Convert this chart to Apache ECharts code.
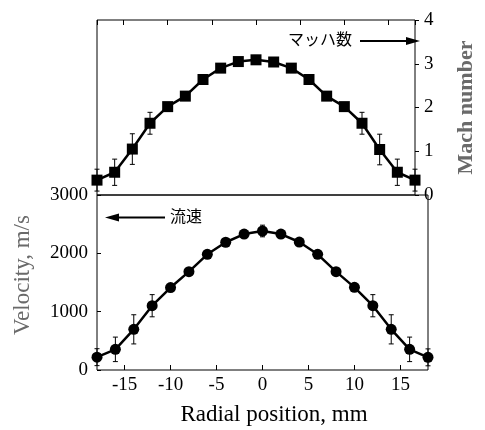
<!DOCTYPE html>
<html>
<head>
<meta charset="utf-8">
<script src="https://cdn.jsdelivr.net/npm/echarts@6/dist/echarts.min.js"></script>
<style>
html,body{margin:0;padding:0;background:#fff;}
#chart{width:485px;height:430px;}
</style>
</head>
<body>
<div id="chart"></div>
<script>
// ---- data ----
const radialPosition = [-18,-16,-14,-12,-10,-8,-6,-4,-2,0,2,4,6,8,10,12,14,16,18];
const machNumber = [0.34,0.52,1.05,1.64,2.02,2.26,2.64,2.90,3.05,3.09,3.04,2.90,2.64,2.26,2.02,1.64,1.04,0.52,0.34];
const machError = [0.25,0.30,0.35,0.25,0.07,0.06,0.05,0.05,0.06,0.10,0.06,0.05,0.05,0.06,0.07,0.25,0.35,0.30,0.25];
const velocity = [220,354,697,1102,1414,1686,1983,2190,2331,2383,2331,2194,1983,1686,1417,1102,697,354,217];
const velocityError = [145,210,250,190,60,50,40,40,40,100,40,40,40,50,60,190,250,210,145];
const machTickLabels = ['0','1','2','3','4'];
const velocityTickLabels = ['0','1000','2000','3000'];
const labels = {
  x: 'Radial position, mm',
  velocity: 'Velocity, m/s',
  mach: 'Mach number',
  machNote: 'マッハ数',
  velocityNote: '流速'
};

const serif = '"Liberation Serif","Times New Roman",serif';
const chart = echarts.init(document.getElementById('chart'), null, {renderer: 'canvas'});

function pairs(xs, ys) { return xs.map((x, i) => [x, ys[i]]); }
function triples(xs, ys, es) { return xs.map((x, i) => [x, ys[i], es[i]]); }

function errorBars(params, api) {
  const x = api.value(0), y = api.value(1), e = api.value(2);
  const top = api.coord([x, y + e]);
  const bot = api.coord([x, y - e]);
  const w = 2.5;
  const st = {stroke: '#000', lineWidth: 1};
  return {
    type: 'group',
    children: [
      {type: 'line', shape: {x1: top[0], y1: top[1], x2: bot[0], y2: bot[1]}, style: st},
      {type: 'line', shape: {x1: top[0] - w, y1: top[1], x2: top[0] + w, y2: top[1]}, style: st},
      {type: 'line', shape: {x1: bot[0] - w, y1: bot[1], x2: bot[0] + w, y2: bot[1]}, style: st}
    ]
  };
}

const xCommon = {
  type: 'value', min: -18, max: 18, splitNumber: 7, minInterval: 5, maxInterval: 5,
  splitLine: {show: false},
  axisLine: {show: false, onZero: false}
};

const option = {
  animation: false,
  backgroundColor: '#fff',
  grid: [
    {left: 97, right: 57, top: 20, height: 175, show: true, borderColor: '#000', borderWidth: 1, backgroundColor: 'transparent'},
    {left: 97, right: 57, top: 195, height: 175, show: true, borderColor: '#000', borderWidth: 1, backgroundColor: 'transparent'}
  ],
  xAxis: [
    Object.assign({}, xCommon, {
      gridIndex: 0, position: 'top',
      axisTick: {show: true, inside: true, length: 5, lineStyle: {color: '#000', width: 1}},
      axisLabel: {show: false}
    }),
    Object.assign({}, xCommon, {
      gridIndex: 1, position: 'bottom',
      axisTick: {show: true, inside: true, length: 5, lineStyle: {color: '#000', width: 1}},
      axisLabel: {show: true, showMinLabel: false, showMaxLabel: false, margin: 6, color: '#000', fontFamily: serif, fontSize: 19},
      name: labels.x, nameLocation: 'middle', nameGap: 33,
      nameTextStyle: {color: '#000', fontFamily: serif, fontSize: 23, padding: [0, 0, 0, 23]}
    })
  ],
  yAxis: [
    {
      type: 'value', gridIndex: 0, position: 'right', min: 0, max: 4, interval: 1,
      splitLine: {show: false}, axisLine: {show: false, onZero: false},
      axisTick: {show: true, inside: false, length: 4, lineStyle: {color: '#000', width: 1}},
      axisLabel: {margin: 9, color: '#000', fontFamily: serif, fontSize: 19,
        formatter: v => machTickLabels[Math.round(v)]},
      name: labels.mach, nameLocation: 'middle', nameGap: 40,
      nameTextStyle: {color: '#6a6a6a', fontFamily: serif, fontSize: 22, fontWeight: 'bold'}
    },
    {
      type: 'value', gridIndex: 1, position: 'left', min: 0, max: 3000, interval: 1000,
      splitLine: {show: false}, axisLine: {show: false, onZero: false},
      axisTick: {show: true, inside: true, length: 4, lineStyle: {color: '#000', width: 1}},
      axisLabel: {margin: 9, color: '#000', fontFamily: serif, fontSize: 19,
        formatter: v => velocityTickLabels[Math.round(v / 1000)]},
      name: labels.velocity, nameLocation: 'middle', nameGap: 63,
      nameTextStyle: {color: '#6a6a6a', fontFamily: serif, fontSize: 23, padding: [0, 0, 0, 15]}
    }
  ],
  series: [
    {
      type: 'custom', xAxisIndex: 0, yAxisIndex: 0, renderItem: errorBars,
      data: triples(radialPosition, machNumber, machError), encode: {x: 0, y: 1}, z: 1, clip: false
    },
    {
      type: 'line', xAxisIndex: 0, yAxisIndex: 0, data: pairs(radialPosition, machNumber),
      symbol: 'rect', symbolSize: 11, clip: false, z: 3,
      lineStyle: {color: '#000', width: 2.5}, itemStyle: {color: '#000'}
    },
    {
      type: 'custom', xAxisIndex: 1, yAxisIndex: 1, renderItem: errorBars,
      data: triples(radialPosition, velocity, velocityError), encode: {x: 0, y: 1}, z: 1, clip: false
    },
    {
      type: 'line', xAxisIndex: 1, yAxisIndex: 1, data: pairs(radialPosition, velocity),
      symbol: 'circle', symbolSize: 11, clip: false, z: 3,
      lineStyle: {color: '#000', width: 2.5}, itemStyle: {color: '#000'}
    }
  ],
  graphic: [
    {type: 'text', left: 288, top: 31, style: {text: labels.machNote, fontFamily: '"Noto Sans CJK JP",sans-serif', fontSize: 16, fill: '#000'}},
    {type: 'line', shape: {x1: 360, y1: 41, x2: 410, y2: 41}, style: {stroke: '#000', lineWidth: 2}},
    {type: 'polygon', shape: {points: [[420, 41], [406, 37], [406, 45]]}, style: {fill: '#000'}},
    {type: 'text', left: 170, top: 208, style: {text: labels.velocityNote, fontFamily: '"Noto Sans CJK JP",sans-serif', fontSize: 16, fill: '#000'}},
    {type: 'line', shape: {x1: 115, y1: 217.5, x2: 165, y2: 217.5}, style: {stroke: '#000', lineWidth: 2}},
    {type: 'polygon', shape: {points: [[105, 217.5], [119, 213.5], [119, 221.5]]}, style: {fill: '#000'}}
  ]
};
chart.setOption(option);
</script>
</body>
</html>
